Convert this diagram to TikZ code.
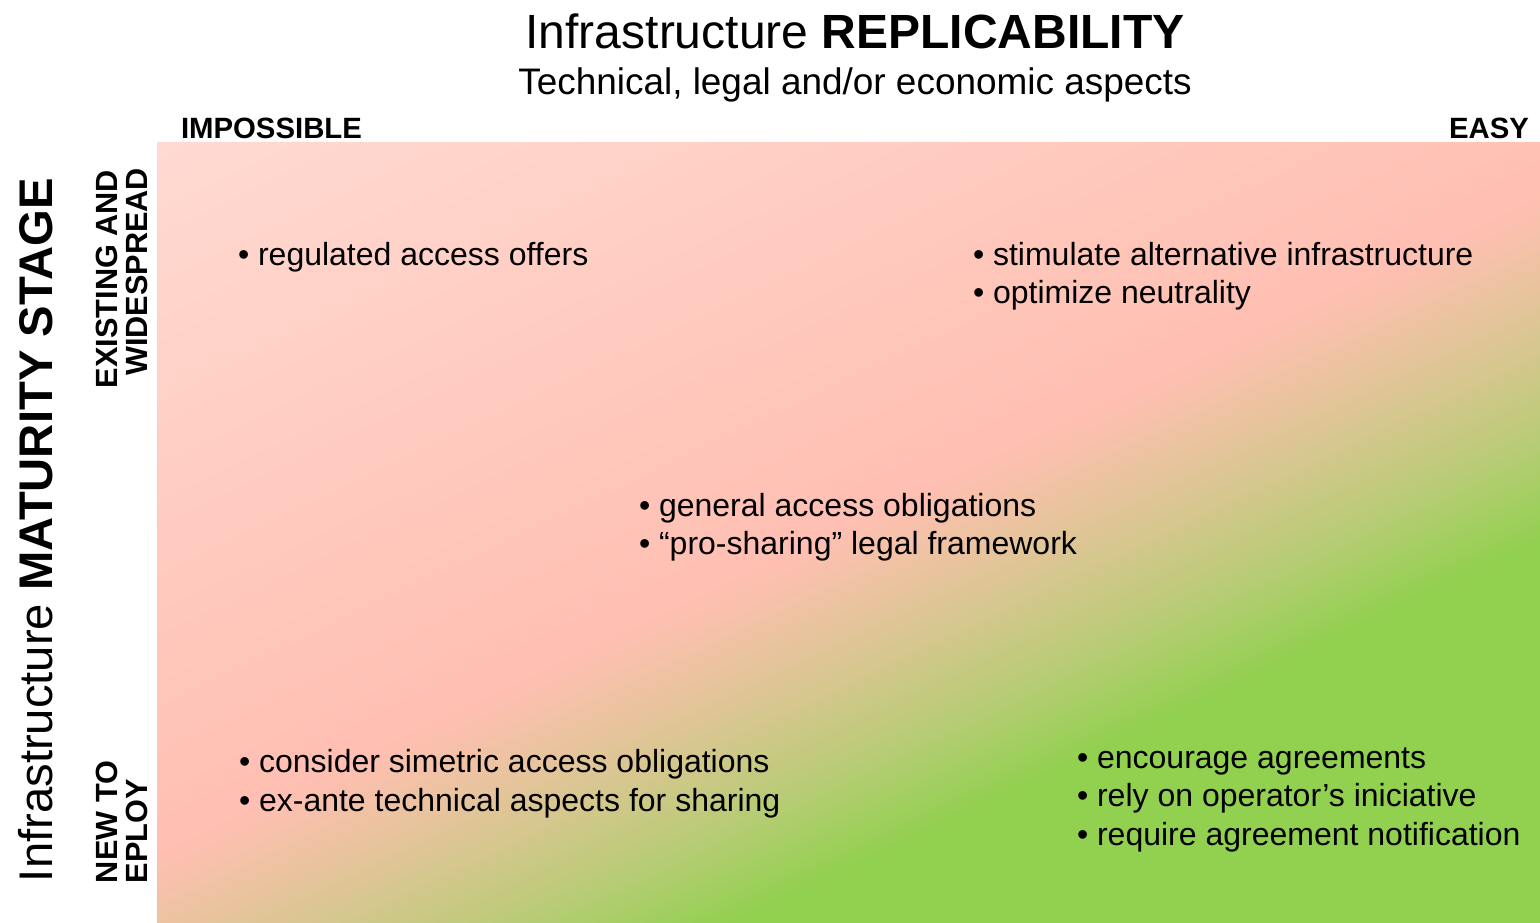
\documentclass[tikz,border=0pt]{standalone}
\usepackage{fontspec}
\setmainfont{Liberation Sans}
% gradient stops: light pink -> salmon -> green
\definecolor{gA}{HTML}{FFDBD3}
\definecolor{gB}{HTML}{FFBFB2}
\definecolor{gC}{HTML}{EBC3A0}
\definecolor{gD}{HTML}{D4C78D}
\definecolor{gE}{HTML}{B5CC73}
\definecolor{gF}{HTML}{92D050}
\begin{document}
\begin{tikzpicture}[x=0.75pt,y=-0.75pt,
  lbl/.style={inner sep=0pt, outer sep=0pt, text=black},
  item/.style={lbl, font=\fontsize{24}{28.8}\selectfont, anchor=base west},
  axislbl/.style={lbl, font=\fontsize{22}{26}\selectfont\bfseries},
  side/.style={lbl, font=\fontsize{23}{23}\selectfont\bfseries, rotate=90},
  big/.style={lbl, font=\fontsize{36}{43}\selectfont}]
\useasboundingbox (0,0) rectangle (1540,923);
\fill[white] (0,0) rectangle (1540,923);

% diagonal gradient field, built from thin strips along the iso-lines
\coordinate (fieldNW) at (157,143);
\coordinate (fieldSE) at (1540,923);
\begin{scope}
  \clip (fieldNW) rectangle (fieldSE);
  \fill[gF] (fieldNW) rectangle (fieldSE);
  \foreach \pa/\pb/\ca/\cb/\nn in {180/840/gA/gB/60, 840/910/gB/gC/14, 910/980/gC/gD/14, 980/1065/gD/gE/17, 1065/1150/gE/gF/17} {
    \foreach \k in {1,...,\nn} {
      \pgfmathsetmacro\q{\pa+(\pb-\pa)/\nn*(\k-1)}
      \pgfmathsetmacro\r{\pa+(\pb-\pa)/\nn*\k+2}
      \pgfmathsetmacro\t{100/\nn*(\k-0.5)}
      \fill[\cb!\t!\ca]
        ({0.429*\q-270.9},{0.903*\q+128.7}) --
        ({0.429*\q+1264.2},{0.903*\q-600.6}) --
        ({0.429*\r+1264.2},{0.903*\r-600.6}) --
        ({0.429*\r-270.9},{0.903*\r+128.7}) -- cycle;
    }
  }
\end{scope}

% headings
\node[big, anchor=base] (title) at (855,49) {Infrastructure \textbf{REPLICABILITY}};
\node[lbl, font=\fontsize{27.7}{33}\selectfont, anchor=base] (subtitle) at (855,95) {Technical, legal and/or economic aspects};
\node[axislbl, anchor=base west] (impossible) at (181,139) {IMPOSSIBLE};
\node[axislbl, anchor=base east] (easy) at (1529,139) {EASY};

% vertical axis
\node[lbl, font=\fontsize{35.4}{43}\selectfont, rotate=90, anchor=base west] (maturity) at (52,882) {Infrastructure \textbf{MATURITY STAGE}};
\node[side, anchor=base east] (existing) at (117,170) {EXISTING AND};
\node[side, anchor=base east] (widespread) at (147,168) {WIDESPREAD};
\node[side, anchor=base west] (newto) at (117,883) {NEW TO};
\node[side, anchor=base west] (eploy) at (147,883) {EPLOY};

% measures in each region
\node[item] (regulated) at (238,266) {• regulated access offers};

\node[item] (stimulate) at (973,266) {• stimulate alternative infrastructure};
\node[item] (optimize) at (973,304) {• optimize neutrality};

\node[item] (general) at (639,516) {• general access obligations};
\node[item] (prosharing) at (639,554) {• “pro-sharing” legal framework};

\node[item] (consider) at (239,772) {• consider simetric access obligations};
\node[item] (exante) at (239,811) {• ex-ante technical aspects for sharing};

\node[item] (encourage) at (1077,768) {• encourage agreements};
\node[item] (rely) at (1077,806) {• rely on operator’s iniciative};
\node[item] (require) at (1077,845) {• require agreement notification};
\end{tikzpicture}
\end{document}
